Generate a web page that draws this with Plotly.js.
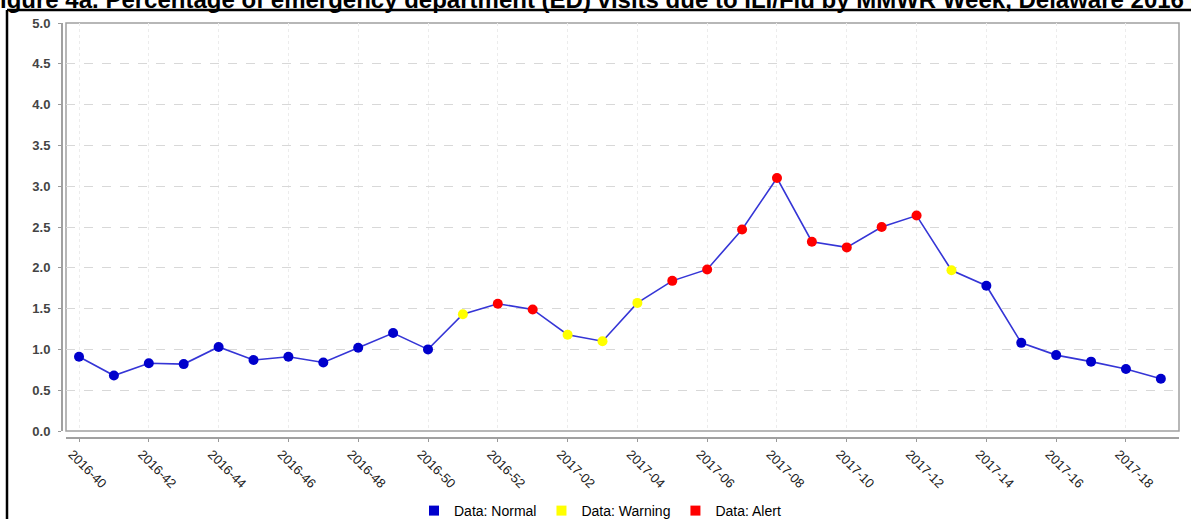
<!DOCTYPE html>
<html>
<head>
<meta charset="utf-8">
<script src="https://cdn.plot.ly/plotly-3.0.1.min.js"></script>
<style>html,body{margin:0;padding:0;background:#fff;overflow:hidden}#chart{width:1191px;height:519px}</style>
</head>
<body>
<div id="chart"></div>
<script>
const weeks = ['2016-40','2016-41','2016-42','2016-43','2016-44','2016-45','2016-46','2016-47','2016-48','2016-49','2016-50','2016-51','2016-52',
  '2017-01','2017-02','2017-03','2017-04','2017-05','2017-06','2017-07','2017-08','2017-09','2017-10','2017-11','2017-12','2017-13','2017-14','2017-15','2017-16','2017-17','2017-18','2017-19'];
const pct = [0.91,0.68,0.83,0.82,1.03,0.87,0.91,0.84,1.02,1.20,1.00,1.43,1.56,
  1.49,1.18,1.10,1.57,1.84,1.98,2.47,3.10,2.32,2.25,2.50,2.64,1.97,1.78,1.08,0.93,0.85,0.76,0.64];
const status = ['Normal','Normal','Normal','Normal','Normal','Normal','Normal','Normal','Normal','Normal','Normal','Warning','Alert',
  'Alert','Warning','Warning','Warning','Alert','Alert','Alert','Alert','Alert','Alert','Alert','Alert','Warning','Normal','Normal','Normal','Normal','Normal','Normal'];
const tickWeeks = ['2016-40','2016-42','2016-44','2016-46','2016-48','2016-50','2016-52','2017-02','2017-04','2017-06','2017-08','2017-10','2017-12','2017-14','2017-16','2017-18'];
const statusNames = ['Normal','Warning','Alert'];
const statusColors = {Normal:'#0000cc', Warning:'#ffff00', Alert:'#ff0000'};

const W = 1191, H = 519;
const mL = 61, mR = 12, mT = 23, mB = 82;
const plotW = W - mL - mR, plotH = H - mT - mB;
const xDom0 = 5 / plotW, yDom0 = 6 / plotH;
const font = 'Arial, "Liberation Sans", sans-serif';

const traces = [{
  x: weeks, y: pct, type: 'scatter', mode: 'lines',
  line: {color: '#3535d6', width: 1.6}, showlegend: false, hoverinfo: 'skip'
}];
statusNames.forEach(s => {
  traces.push({
    x: weeks.filter((w, i) => status[i] === s),
    y: pct.filter((v, i) => status[i] === s),
    type: 'scatter', mode: 'markers',
    marker: {color: statusColors[s], size: 10, line: {width: 0}},
    showlegend: false, name: 'Data: ' + s
  });
});
statusNames.forEach(s => {
  traces.push({
    x: [null], y: [null], type: 'scatter', mode: 'markers',
    marker: {color: statusColors[s], size: 10, symbol: 'square', line: {width: 0}},
    name: 'Data: ' + s, showlegend: true
  });
});

const layout = {
  width: W, height: H,
  margin: {l: mL, r: mR, t: mT, b: mB, pad: 0},
  paper_bgcolor: '#fff', plot_bgcolor: '#fff',
  font: {family: font, color: '#000'},
  title: {
    text: '<b>Figure 4a. Percentage of emergency department (ED) visits due to ILI/Flu by MMWR Week, Delaware 2016 - 2017</b>',
    font: {family: font, size: 24, color: '#000'},
    x: 622 / W, xref: 'container', xanchor: 'center',
    y: 1.0, yref: 'container', yanchor: 'middle'
  },
  xaxis: {
    type: 'category', domain: [xDom0, 1],
    range: [-0.373, 31.52],
    anchor: 'free', position: 0,
    tickmode: 'array', tickvals: tickWeeks, ticktext: tickWeeks,
    tickangle: 45, tickfont: {family: font, size: 13, color: '#222'},
    ticklabelshift: -7,
    ticks: 'outside', ticklen: 3, tickcolor: '#999',
    showline: true, linecolor: '#a0a0a0', linewidth: 1.5,
    showgrid: true, gridcolor: '#ececec', griddash: 'dot', gridwidth: 1,
    zeroline: false, fixedrange: true
  },
  yaxis: {
    domain: [yDom0, 1], range: [0, 5],
    anchor: 'free', position: 0,
    tickmode: 'linear', tick0: 0, dtick: 0.5, tickformat: '.1f',
    tickfont: {family: font, size: 13, color: '#444', weight: 'bold'},
    ticklabelstandoff: 5,
    ticks: 'outside', ticklen: 3, tickcolor: '#999',
    showline: true, linecolor: '#a0a0a0', linewidth: 1.5,
    showgrid: true, gridcolor: '#d8d8d8', griddash: 'dash', gridwidth: 1,
    zeroline: false, fixedrange: true
  },
  legend: {
    orientation: 'h', xref: 'container', yref: 'container',
    x: 600 / W, xanchor: 'center', y: 8 / H, yanchor: 'middle',
    font: {family: font, size: 14, color: '#000'},
    bgcolor: 'rgba(0,0,0,0)', itemwidth: 30, tracegroupgap: 0
  },
  shapes: [
    {type: 'rect', xref: 'paper', yref: 'paper', x0: xDom0, x1: 1, y0: yDom0, y1: 1,
     line: {color: '#a0a0a0', width: 1.5}, fillcolor: 'rgba(0,0,0,0)', layer: 'below'},
    {type: 'line', xref: 'paper', yref: 'paper',
     x0: (7 - mL) / plotW, x1: (7 - mL) / plotW, y0: (H - 10 - mB) / plotH, y1: -mB / plotH - 0.01,
     line: {color: '#000', width: 2.5}},
    {type: 'line', xref: 'paper', yref: 'paper',
     x0: (7 - mL) / plotW, x1: (W - mL + 5) / plotW, y0: (H - 10 - mB) / plotH, y1: (H - 10 - mB) / plotH,
     line: {color: '#000', width: 2.5}}
  ],
  hovermode: false
};

Plotly.newPlot('chart', traces, layout, {displayModeBar: false, staticPlot: true});
</script>
</body>
</html>
